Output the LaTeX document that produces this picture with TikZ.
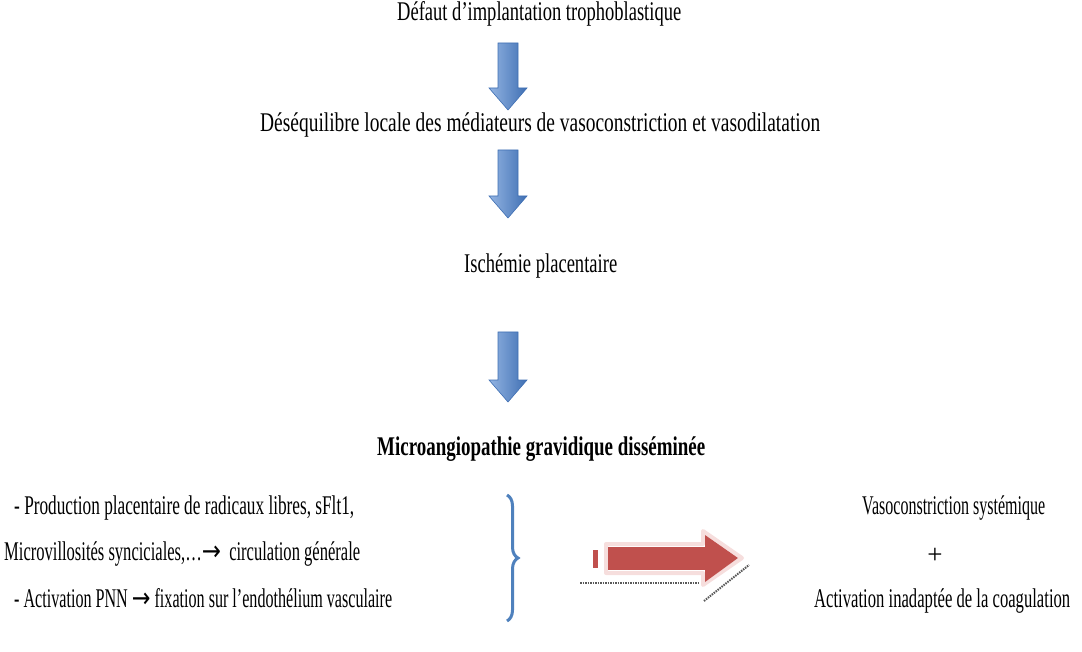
\documentclass[tikz,border=0pt]{standalone}
\usepackage{fontspec}
\setmainfont{Liberation Serif}
\newfontfamily\arrowfont{DejaVu Sans}
\usetikzlibrary{decorations.pathreplacing}
\definecolor{bluedark}{HTML}{3F6FB3}
\definecolor{bluelight}{HTML}{93B4E2}
\definecolor{redarrow}{HTML}{C0504D}
\definecolor{redglow}{HTML}{F6DEDD}
\definecolor{braceblue}{HTML}{4F81BD}
\newcommand{\fitw}[2]{\resizebox{#1}{\height}{#2}}
\newcommand{\rarr}{{\arrowfont\fontsize{22}{26}\selectfont\scalebox{1.7}[1.25]{→}}}
\newcommand{\blockdown}[3]{%
  \path[bluearrow] (#1-10,#2) -- (#1+10,#2) -- (#1+10,#3-22) -- (#1+19,#3-22)
    -- (#1,#3) -- (#1-19,#3-22) -- (#1-10,#3-22) -- cycle;}
\begin{document}
\begin{tikzpicture}[x=1pt,y=-1pt,
  txt/.style={inner sep=0pt, anchor=base west, font=\fontsize{27}{32}\selectfont},
  bluearrow/.style={draw=bluedark, line width=0.6pt, left color=bluelight, right color=bluedark, shading angle=90},
  bracestyle/.style={draw=braceblue, line width=3pt, decorate, decoration={brace, amplitude=11pt}}]
\useasboundingbox (0,0) rectangle (1082,652);
% texts
\node[txt] (t1) at (397,21) {\fitw{284pt}{Défaut d’implantation trophoblastique}};
\node[txt] (t2) at (260,132) {\fitw{560pt}{Déséquilibre locale des médiateurs de vasoconstriction et vasodilatation}};
\node[txt] (t3) at (464,273) {\fitw{153pt}{Ischémie placentaire}};
\node[txt] (t4) at (377,455) {\fitw{328pt}{\bfseries Microangiopathie gravidique disséminée}};
\node[txt] (l1) at (14,514) {\fitw{340pt}{- Production placentaire de radicaux libres, sFlt1,}};
\node[txt] (l2) at (4,560) {\fitw{356pt}{Microvillosités synciciales,…\rarr\ \ circulation générale}};
\node[txt] (l3) at (14,607) {\fitw{378pt}{- Activation PNN \rarr\ fixation sur l’endothélium vasculaire}};
\node[txt] (r1) at (862,514) {\fitw{183pt}{Vasoconstriction systémique}};
\node[txt, anchor=base] (r2) at (935,563) {+};
\node[txt] (r3) at (814,607) {\fitw{256pt}{Activation inadaptée de la coagulation}};
% blue block arrows
\blockdown{508}{43}{110}
\blockdown{508}{150}{218}
\blockdown{508}{332}{402}
% brace
\draw[bracestyle] (507,495) -- (507,621);
% red arrow
\draw[redglow, line width=4pt, line join=round] (606,544) -- (703,544) -- (703,531) -- (742,558) -- (703,585) -- (703,573) -- (606,573) -- cycle;
\fill[redarrow] (608,547) rectangle (705,570);
\fill[redarrow] (705,535) -- (738,558) -- (705,582) -- cycle;
\fill[redarrow] (593,550) rectangle (598,568);
\draw[black!65, line width=2pt, dash pattern=on 1.5pt off 1pt] (580,583) -- (700,583);
\draw[black!65, line width=2pt, dash pattern=on 1.5pt off 1pt] (704,601) -- (749,565);
\end{tikzpicture}
\end{document}
